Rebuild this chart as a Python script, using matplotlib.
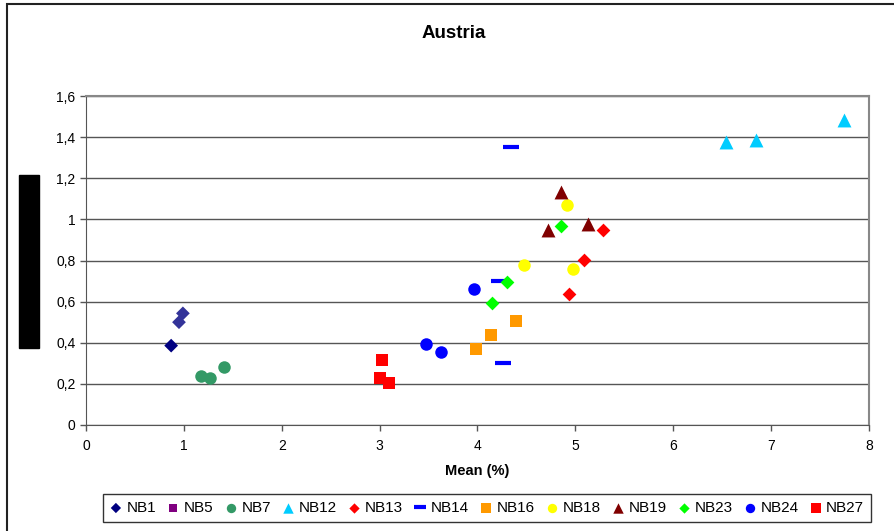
import matplotlib.pyplot as plt
from matplotlib.patches import Rectangle
from matplotlib.ticker import FuncFormatter

plt.rcParams['font.family'] = ['Liberation Sans', 'DejaVu Sans']

# series: name -> x values (Mean %), y values
nb1_x = [0.87, 0.95, 0.99]
nb1_y = [0.386, 0.50, 0.543]
nb5_x = []
nb5_y = []
nb7_x = [1.18, 1.27, 1.41]
nb7_y = [0.238, 0.227, 0.284]
nb12_x = [6.54, 6.85, 7.74]
nb12_y = [1.375, 1.386, 1.483]
nb13_x = [5.28, 5.09, 4.93]
nb13_y = [0.95, 0.804, 0.639]
nb14_x = [4.34, 4.22, 4.26]
nb14_y = [1.354, 0.70, 0.303]
nb16_x = [3.98, 4.14, 4.39]
nb16_y = [0.371, 0.439, 0.507]
nb18_x = [4.915, 4.47, 4.98]
nb18_y = [1.071, 0.78, 0.759]
nb19_x = [4.85, 4.72, 5.13]
nb19_y = [1.135, 0.948, 0.978]
nb23_x = [4.85, 4.30, 4.15]
nb23_y = [0.97, 0.697, 0.592]
nb24_x = [3.96, 3.47, 3.63]
nb24_y = [0.663, 0.392, 0.353]
nb27_x = [3.02, 3.00, 3.10]
nb27_y = [0.315, 0.227, 0.206]

names = ['NB1', 'NB5', 'NB7', 'NB12', 'NB13', 'NB14', 'NB16', 'NB18',
         'NB19', 'NB23', 'NB24', 'NB27']
xs = [nb1_x, nb5_x, nb7_x, nb12_x, nb13_x, nb14_x, nb16_x, nb18_x,
      nb19_x, nb23_x, nb24_x, nb27_x]
ys = [nb1_y, nb5_y, nb7_y, nb12_y, nb13_y, nb14_y, nb16_y, nb18_y,
      nb19_y, nb23_y, nb24_y, nb27_y]

# marker style per series
styles = [
    ('D', '#000080', 7),
    ('s', '#800080', 7),
    ('o', '#339966', 9),
    ('^', '#00CCFF', 10),
    ('D', '#FF0000', 7),
    ('_', '#0000FF', 12),
    ('s', '#FF9900', 9),
    ('o', '#FFFF00', 9),
    ('^', '#800000', 10),
    ('D', '#00FF00', 7),
    ('o', '#0000FF', 9),
    ('s', '#FF0000', 9),
]

fig = plt.figure(figsize=(8.95, 5.31), dpi=100)
ax = fig.add_axes([86 / 895, 1 - 425 / 531, (869 - 86) / 895, (425 - 96) / 531])

for name, x, y, (m, c, s) in zip(names, xs, ys, styles):
    cols = c
    if name == 'NB1':
        cols = ['#000080', '#333399', '#333399']
    if m == '_':
        ax.plot(x, y, linestyle='none', marker=m, color=c, markersize=s,
                markeredgewidth=3, label=name)
    else:
        ax.scatter(x, y, marker=m, c=cols, s=s ** 2, linewidths=0, label=name,
                   zorder=3)

ax.set_xlim(0, 8)
ax.set_ylim(0, 1.6)
ax.set_xticks(range(0, 9))
ax.set_yticks([0, 0.2, 0.4, 0.6, 0.8, 1.0, 1.2, 1.4, 1.6])
ax.yaxis.set_major_formatter(FuncFormatter(lambda v, p: ('%g' % round(v, 1)).replace('.', ',')))
ax.grid(axis='y', color='#555555', linewidth=1)
ax.set_axisbelow(True)
ax.tick_params(labelsize=10, length=4, color='#555555', width=1)
ax.tick_params(axis='x', pad=6)
for side in ['left', 'bottom']:
    ax.spines[side].set_color('#555555')
for side in ['top', 'right']:
    ax.spines[side].set_color('#888888')
    ax.spines[side].set_linewidth(1.5)

ax.set_xlabel('Mean (%)', fontsize=10.5, fontweight='bold', labelpad=8)
fig.text(454 / 895, 1 - 33 / 531, 'Austria', ha='center', va='center',
         fontsize=13.5, fontweight='bold')

# redacted y label block
fig.patches.append(Rectangle((19 / 895, 1 - 348 / 531), 20 / 895, 173 / 531,
                             transform=fig.transFigure, color='black'))
# chart area border
fig.patches.append(Rectangle((7 / 895, -0.05), 1.0, 1 - 4 / 531 + 0.05,
                             transform=fig.transFigure, fill=False,
                             edgecolor='#222222', linewidth=1.5))

leg = fig.legend(loc='center', bbox_to_anchor=(487 / 895, 1 - 508 / 531), ncol=12,
                 fontsize=11, frameon=True, fancybox=False, handletextpad=0.3,
                 columnspacing=0.72, handlelength=0.8, borderpad=0.45,
                 markerscale=0.75)
leg.get_frame().set_edgecolor('black')
leg.get_frame().set_linewidth(1)

fig.savefig('out.png', dpi=100)
